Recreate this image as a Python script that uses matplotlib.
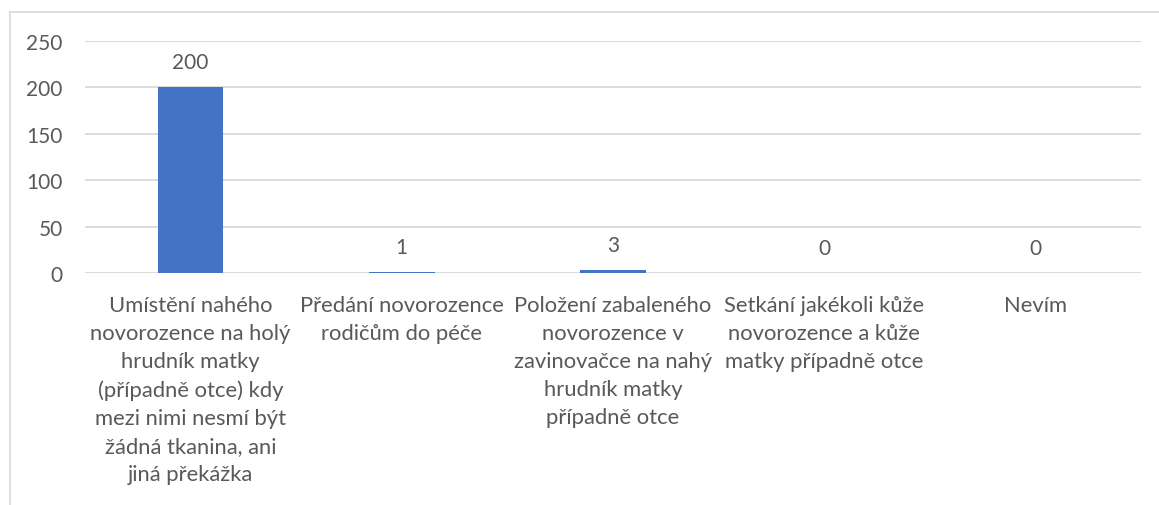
import matplotlib
matplotlib.use("Agg")
import matplotlib.pyplot as plt
from matplotlib.lines import Line2D

categories = [
    "Umístění nahého\nnovorozence na holý\nhrudník matky\n(případně otce) kdy\nmezi nimi nesmí být\nžádná tkanina, ani\njiná překážka",
    "Předání novorozence\nrodičům do péče",
    "Položení zabaleného\nnovorozence v\nzavinovačce na nahý\nhrudník matky\npřípadně otce",
    "Setkání jakékoli kůže\nnovorozence a kůže\nmatky případně otce",
    "Nevím",
]
values = [200, 1, 3, 0, 0]
yticks = [0, 50, 100, 150, 200, 250]

plt.rcParams['font.family'] = ['Lato', 'DejaVu Sans']
text_color = "#595959"
bar_color = "#4472C4"
grid_color = "#D9D9D9"

fig = plt.figure(figsize=(11.59, 5.06), dpi=100)
W, H = 1159, 506
ax = fig.add_axes([85 / W, (H - 274) / H, (1141 - 85) / W, (274 - 42) / H])

x = list(range(len(categories)))
bars = ax.bar(x, values, width=0.31, color=bar_color, zorder=3)
ax.set_xlim(-0.5, len(categories) - 0.5)
ax.set_ylim(0, 250)
ax.set_yticks(yticks)
ax.set_yticklabels([str(v) for v in yticks], fontsize=15, color=text_color)
ax.set_xticks(x)
ax.set_xticklabels(categories, fontsize=15.8, color=text_color, linespacing=1.5, va="top")
ax.tick_params(axis="y", length=0, pad=16)
ax.tick_params(axis="x", length=0, pad=16)
ax.grid(axis="y", color=grid_color, linewidth=1.3, zorder=0)
for s in ax.spines.values():
    s.set_visible(False)

for xi, v in zip(x, values):
    ax.annotate(str(v), (xi, v), xytext=(0, 11), textcoords="offset points",
                ha="center", va="bottom", fontsize=15, color=text_color)

# outer chart border (partially visible)
fig.add_artist(Line2D([9.5 / W, 9.5 / W], [0, (H - 13) / H], color=grid_color, linewidth=1.2, transform=fig.transFigure))
fig.add_artist(Line2D([9.5 / W, 1], [(H - 13) / H, (H - 13) / H], color=grid_color, linewidth=1.2, transform=fig.transFigure))

fig.savefig("out.png", dpi=100)
